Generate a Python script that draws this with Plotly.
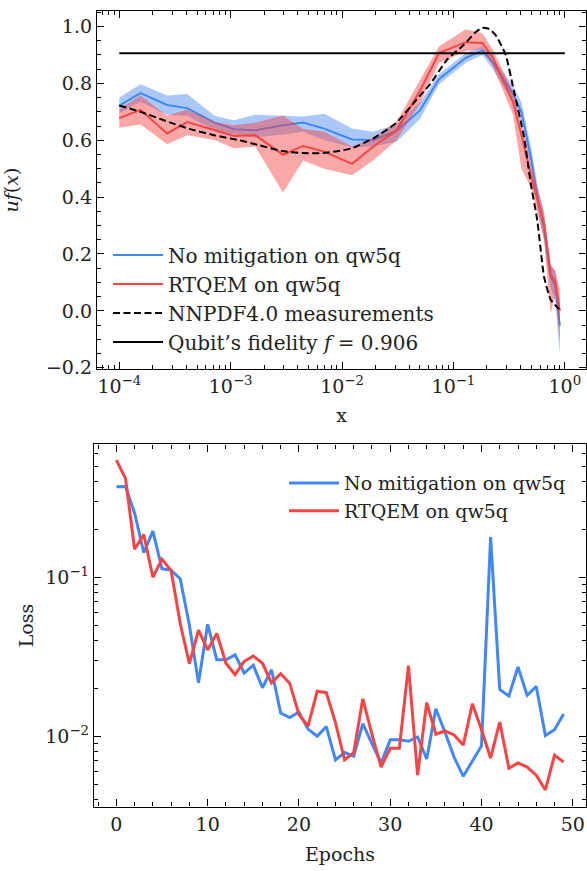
import plotly.graph_objects as go

# ---------------- top panel data ----------------
x_pts = [1.0e-4, 1.55e-4, 2.69e-4, 4.07e-4, 7.24e-4, 1.07e-3, 1.66e-3, 2.95e-3, 4.47e-3, 6.92e-3,
         1.23e-2, 1.91e-2, 3.09e-2, 5.01e-2, 7.41e-2, 0.129, 0.182, 0.226, 0.343, 0.407,
         0.501, 0.569, 0.650, 0.746, 0.822, 0.902]
blue_mean = [0.722, 0.766, 0.724, 0.713, 0.661, 0.639, 0.635, 0.653, 0.662, 0.641,
             0.603, 0.601, 0.633, 0.705, 0.815, 0.890, 0.916, 0.872, 0.763, 0.700,
             0.530, 0.400, 0.295, 0.121, 0.087, -0.052]
blue_lo = [0.695, 0.735, 0.690, 0.685, 0.635, 0.620, 0.610, 0.620, 0.630, 0.600,
           0.575, 0.578, 0.595, 0.675, 0.797, 0.873, 0.900, 0.850, 0.730, 0.665,
           0.490, 0.360, 0.250, 0.080, 0.030, -0.156]
blue_hi = [0.750, 0.797, 0.757, 0.763, 0.685, 0.670, 0.690, 0.687, 0.684, 0.693,
           0.641, 0.630, 0.655, 0.735, 0.832, 0.907, 0.930, 0.890, 0.790, 0.735,
           0.570, 0.440, 0.340, 0.160, 0.140, -0.005]
red_mean = [0.678, 0.707, 0.624, 0.664, 0.635, 0.615, 0.618, 0.549, 0.580, 0.560,
            0.517, 0.578, 0.635, 0.774, 0.907, 0.945, 0.942, 0.890, 0.734, 0.620,
            0.470, 0.390, 0.306, 0.127, 0.104, 0.000]
red_lo = [0.644, 0.655, 0.586, 0.618, 0.600, 0.572, 0.578, 0.416, 0.529, 0.500,
          0.477, 0.530, 0.600, 0.730, 0.872, 0.913, 0.920, 0.860, 0.690, 0.500,
          0.430, 0.340, 0.250, -0.010, 0.060, -0.110]
red_hi = [0.710, 0.757, 0.687, 0.708, 0.664, 0.653, 0.662, 0.687, 0.640, 0.630,
          0.578, 0.610, 0.665, 0.810, 0.930, 0.990, 0.976, 0.918, 0.770, 0.660,
          0.510, 0.430, 0.350, 0.160, 0.140, 0.076]

nnpdf_x = [1.0e-4, 1.55e-4, 2.69e-4, 4.27e-4, 7.24e-4, 1.20e-3, 1.82e-3, 2.88e-3, 4.37e-3, 6.76e-3,
           9.55e-3, 1.23e-2, 1.91e-2, 3.02e-2, 5.01e-2, 6.17e-2, 8.79e-2, 0.124, 0.158, 0.182,
           0.209, 0.239, 0.294, 0.349, 0.430, 0.493, 0.566, 0.650, 0.746, 0.887]
nnpdf_y = [0.722, 0.700, 0.666, 0.640, 0.617, 0.600, 0.582, 0.562, 0.555, 0.555,
           0.563, 0.572, 0.607, 0.659, 0.757, 0.797, 0.884, 0.936, 0.980, 0.996,
           0.991, 0.970, 0.901, 0.774, 0.612, 0.450, 0.318, 0.121, 0.040, 0.006]

fid_x = [1e-4, 1.0]
fid_value = 0.906

x_tickvals = [1e-4, 1e-3, 1e-2, 1e-1, 1e0]
x_ticktext = ["10<sup>\u22124</sup>", "10<sup>\u22123</sup>", "10<sup>\u22122</sup>",
              "10<sup>\u22121</sup>", "10<sup>0</sup>"]

# ---------------- bottom panel data ----------------
epochs = list(range(50))
loss_nomit = [0.371, 0.372, 0.253, 0.143, 0.195, 0.113, 0.111, 0.0976, 0.050, 0.0217,
              0.0507, 0.0303, 0.0303, 0.0325, 0.0250, 0.0280, 0.0202, 0.0262, 0.0140, 0.0131,
              0.0142, 0.0111, 0.0100, 0.0115, 0.0071, 0.0079, 0.0075, 0.0120, 0.0090, 0.0068,
              0.0095, 0.0095, 0.0093, 0.0099, 0.0072, 0.0149, 0.0106, 0.0074, 0.0056, 0.0070,
              0.0087, 0.179, 0.0197, 0.0179, 0.0273, 0.0181, 0.0206, 0.0101, 0.0110, 0.0138]
loss_rtqem = [0.545, 0.419, 0.150, 0.186, 0.100, 0.130, 0.110, 0.051, 0.0286, 0.0466,
              0.0349, 0.0444, 0.0288, 0.0244, 0.0296, 0.0320, 0.0288, 0.0217, 0.0248, 0.0215,
              0.0137, 0.0116, 0.0192, 0.0188, 0.0122, 0.0071, 0.0079, 0.0172, 0.0103, 0.0064,
              0.0084, 0.0084, 0.0278, 0.0057, 0.0163, 0.0103, 0.0108, 0.0102, 0.0088, 0.0160,
              0.0110, 0.0073, 0.0123, 0.0063, 0.0068, 0.0064, 0.0057, 0.0046, 0.0076, 0.0069]
y2_tickvals = [1e-2, 1e-1]
y2_ticktext = ["10<sup>\u22122</sup>", "10<sup>\u22121</sup>"]

labels = ["No mitigation on qw5q", "RTQEM on qw5q", "NNPDF4.0 measurements",
          "Qubit\u2019s fidelity <i>f</i> = 0.906"]

BLUE = "#4287f5"
RED = "#f54545"
BLUE_FILL = "rgba(66,135,245,0.45)"
RED_FILL = "rgba(245,69,69,0.47)"
FONT = "DejaVu Serif"
TXT = "#222"

fig = go.Figure()

def band(x, lo, hi, color, axes):
    fig.add_trace(go.Scatter(x=list(x) + list(x)[::-1], y=list(hi) + list(lo)[::-1],
                             fill="toself", fillcolor=color, line=dict(width=0),
                             mode="lines", showlegend=False, hoverinfo="skip",
                             xaxis=axes[0], yaxis=axes[1]))

band(x_pts, blue_lo, blue_hi, BLUE_FILL, ("x", "y"))
fig.add_trace(go.Scatter(x=x_pts, y=blue_mean, mode="lines", line=dict(color=BLUE, width=2),
                         name=labels[0], legend="legend"))
band(x_pts, red_lo, red_hi, RED_FILL, ("x", "y"))
fig.add_trace(go.Scatter(x=x_pts, y=red_mean, mode="lines", line=dict(color=RED, width=2),
                         name=labels[1], legend="legend"))
fig.add_trace(go.Scatter(x=nnpdf_x, y=nnpdf_y, mode="lines",
                         line=dict(color="black", width=2, dash="7px,3.5px", shape="spline", smoothing=0.5),
                         name=labels[2], legend="legend"))
fig.add_trace(go.Scatter(x=fid_x, y=[fid_value] * len(fid_x), mode="lines",
                         line=dict(color="black", width=2), name=labels[3], legend="legend"))

fig.add_trace(go.Scatter(x=epochs, y=loss_nomit, mode="lines", line=dict(color=BLUE, width=3),
                         name=labels[0], xaxis="x2", yaxis="y2", legend="legend2"))
fig.add_trace(go.Scatter(x=epochs, y=loss_rtqem, mode="lines", line=dict(color=RED, width=3),
                         name=labels[1], xaxis="x2", yaxis="y2", legend="legend2"))

W, H = 587, 871
ax_common = dict(showline=True, linecolor="black", linewidth=1.3, mirror="allticks",
                 ticks="inside", ticklen=7, tickwidth=1, tickcolor="black",
                 showgrid=False, zeroline=False,
                 tickfont=dict(family=FONT, size=19, color=TXT))
minor_log = dict(ticks="inside", ticklen=4, tickcolor="black", dtick="D1")

fig.update_layout(
    width=W, height=H, margin=dict(l=0, r=0, t=0, b=0),
    paper_bgcolor="white", plot_bgcolor="white",
    font=dict(family=FONT, size=19, color=TXT),
    xaxis=dict(ax_common, type="log", range=[-4.2, 0.19],
               tickvals=x_tickvals, ticktext=x_ticktext,
               domain=[97 / W, 586 / W], anchor="y", minor=minor_log,
               title=dict(text="x", standoff=12, font=dict(family=FONT, size=19))),
    yaxis=dict(ax_common, range=[-0.205, 1.055], dtick=0.2, tickformat=".1f",
               domain=[1 - 373 / H, 1 - 11 / H], anchor="x",
               minor=dict(ticks="inside", ticklen=4, tickcolor="black", dtick=0.05),
               title=dict(text="<i>uf</i>(<i>x</i>)", standoff=22, font=dict(family=FONT, size=19))),
    xaxis2=dict(ax_common, range=[-2.45, 51.45], dtick=10,
                domain=[94 / W, 586 / W], anchor="y2",
                minor=dict(ticks="inside", ticklen=4, tickcolor="black", dtick=2),
                title=dict(text="Epochs", standoff=14, font=dict(family=FONT, size=19))),
    yaxis2=dict(ax_common, type="log", range=[-2.442, -0.164],
                tickvals=y2_tickvals, ticktext=y2_ticktext,
                domain=[1 - 815 / H, 1 - 449 / H], anchor="x2", minor=minor_log,
                title=dict(text="Loss", standoff=6, font=dict(family=FONT, size=19))),
    legend=dict(x=108 / W, y=1 - 238 / H, xanchor="left", yanchor="top",
                bgcolor="rgba(0,0,0,0)", font=dict(family=FONT, size=20, color=TXT),
                tracegroupgap=0, itemwidth=50),
    legend2=dict(x=284 / W, y=1 - 469 / H, xanchor="left", yanchor="top",
                 bgcolor="rgba(0,0,0,0)", font=dict(family=FONT, size=19, color=TXT),
                 tracegroupgap=0, itemwidth=50),
)

fig.write_html("out.html")
